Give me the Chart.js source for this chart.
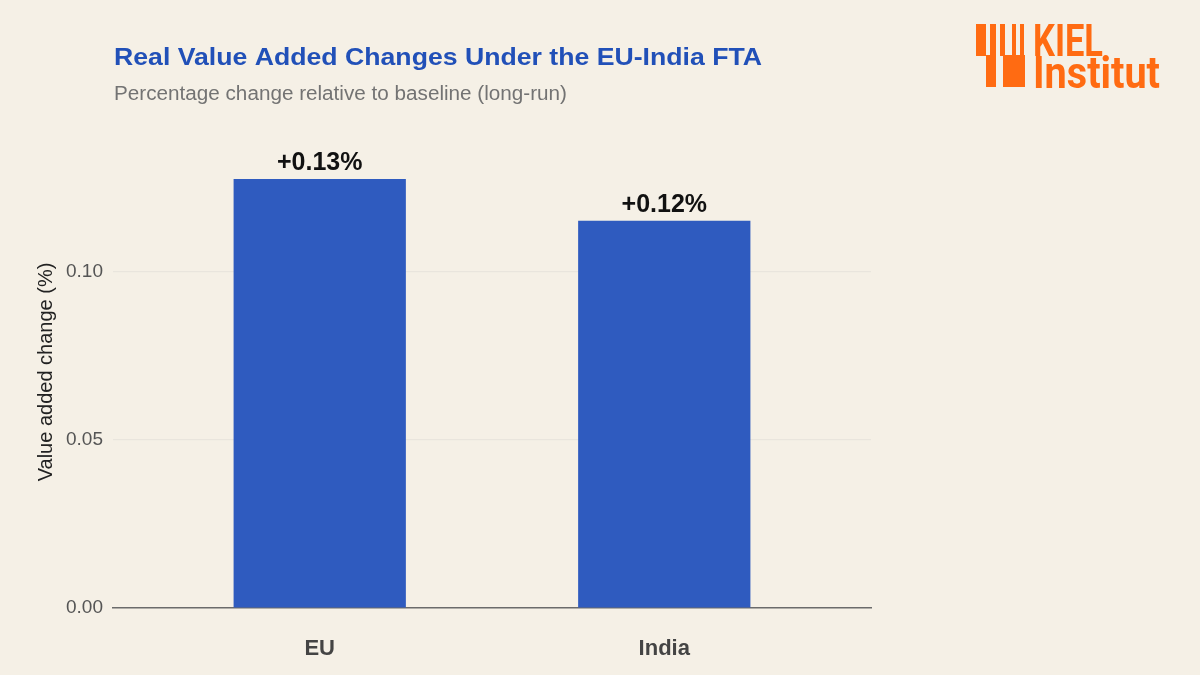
<!DOCTYPE html>
<html>
<head>
<meta charset="utf-8">
<script src="https://cdn.jsdelivr.net/npm/chart.js@4.4.1/dist/chart.umd.min.js"></script>
<style>
  html, body { margin: 0; padding: 0; background: #f5f0e6; }
  #wrap { position: relative; width: 1200px; height: 675px; }
</style>
</head>
<body>
<div id="wrap"><canvas id="chart" width="1200" height="675"></canvas></div>
<script>
// chart data
const categories = ['EU', 'India'];
const valueAdded = [0.1277, 0.1153];
const yTicks = [0.00, 0.05, 0.10];

const TITLE = 'Real Value Added Changes Under the EU-India FTA';
const SUBTITLE = 'Percentage change relative to baseline (long-run)';

const BG = '#f5f0e6';
const BAR = '#2f5bbf';
const FONT = '"Liberation Sans", Arial, Helvetica, sans-serif';

const bgPlugin = {
  id: 'bg',
  beforeDraw(chart) {
    const ctx = chart.ctx;
    ctx.save();
    ctx.fillStyle = BG;
    ctx.fillRect(0, 0, chart.width, chart.height);
    ctx.restore();
  }
};

// draw text stretched to a given width (the source font is a bit wider than Arial)
function fitText(ctx, txt, x, y, w) {
  const m = ctx.measureText(txt).width;
  ctx.save();
  ctx.translate(x, y);
  ctx.scale(w / m, 1);
  ctx.fillText(txt, 0, 0);
  ctx.restore();
}

// title + subtitle left aligned with the plot panel
const headerPlugin = {
  id: 'header',
  afterDraw(chart) {
    const ctx = chart.ctx;
    const x = chart.chartArea.left + 1;
    ctx.save();
    ctx.textAlign = 'left';
    ctx.textBaseline = 'alphabetic';
    ctx.fillStyle = '#2150b8';
    ctx.font = `bold 24px ${FONT}`;
    fitText(ctx, TITLE, x, 65, 648);
    ctx.fillStyle = '#737373';
    ctx.font = `20px ${FONT}`;
    fitText(ctx, SUBTITLE, x, 100, 453);
    ctx.restore();
  }
};

// value labels above the bars
const barLabelPlugin = {
  id: 'barLabels',
  afterDatasetsDraw(chart) {
    const ctx = chart.ctx;
    const meta = chart.getDatasetMeta(0);
    ctx.save();
    ctx.fillStyle = '#111';
    ctx.font = `bold 25px ${FONT}`;
    ctx.textAlign = 'center';
    ctx.textBaseline = 'alphabetic';
    meta.data.forEach((bar, i) => {
      const v = valueAdded[i];
      ctx.fillText((v >= 0 ? '+' : '') + v.toFixed(2) + '%', bar.x, bar.y - 9);
    });
    ctx.restore();
  }
};

// Kiel Institut logo, top right
const logoPlugin = {
  id: 'logo',
  afterDraw(chart) {
    const ctx = chart.ctx;
    ctx.save();
    ctx.fillStyle = '#ff6b12';
    [[976, 24, 10, 32], [990, 24, 6, 32], [1000, 24, 5, 32], [1012, 24, 4, 32], [1020, 24, 4, 32],
     [986, 55, 10, 32], [1003, 55, 22, 32]].forEach(r => ctx.fillRect(r[0], r[1], r[2], r[3]));
    ctx.textBaseline = 'alphabetic';
    ctx.textAlign = 'left';
    ctx.font = `bold 45px Roboto, ${FONT}`;
    fitText(ctx, 'KIEL', 1033, 56, 70);
    fitText(ctx, 'Institut', 1033, 88, 127);
    ctx.restore();
  }
};

new Chart(document.getElementById('chart'), {
  type: 'bar',
  plugins: [bgPlugin, headerPlugin, barLabelPlugin, logoPlugin],
  data: {
    datasets: [{
      data: valueAdded.map((v, i) => ({ x: i, y: v })),
      backgroundColor: BAR,
      borderWidth: 0,
      barPercentage: 0.5,
      categoryPercentage: 1.0,
    }]
  },
  options: {
    responsive: false,
    animation: false,
    devicePixelRatio: 1,
    layout: { padding: { top: 136, right: 329, left: 0, bottom: 0 } },
    plugins: {
      legend: { display: false },
      tooltip: { enabled: false },
      title: { display: false },
    },
    scales: {
      x: {
        type: 'linear',
        offset: false,
        min: -0.6,
        max: 1.6,
        afterBuildTicks(scale) { scale.ticks = categories.map((c, i) => ({ value: i })); },
        afterFit(scale) { scale.height = 67; },
        grid: { display: false, drawTicks: false },
        border: { display: true, color: '#6b6b6b', width: 1.5 },
        ticks: {
          padding: 28,
          color: '#444444',
          font: { family: FONT, size: 22, weight: 'bold' },
          callback: (v) => categories[v] ?? '',
        },
      },
      y: {
        min: 0,
        max: 0.1405,
        afterBuildTicks(scale) { scale.ticks = yTicks.map(v => ({ value: v })); },
        afterFit(scale) { scale.width = 113; },
        grid: {
          drawTicks: false,
          color: (c) => c.tick && c.tick.value === 0 ? 'rgba(0,0,0,0)' : '#e9e5dd',
          lineWidth: 1.2,
        },
        border: { display: false },
        ticks: {
          padding: 10,
          color: '#555555',
          font: { family: FONT, size: 19 },
          callback: (v) => Number(v).toFixed(2),
        },
        title: {
          display: true,
          text: 'Value added change (%)',
          color: '#222222',
          font: { family: FONT, size: 20 },
          padding: { top: 34, bottom: 0 },
        },
      },
    },
  },
});
</script>
</body>
</html>
